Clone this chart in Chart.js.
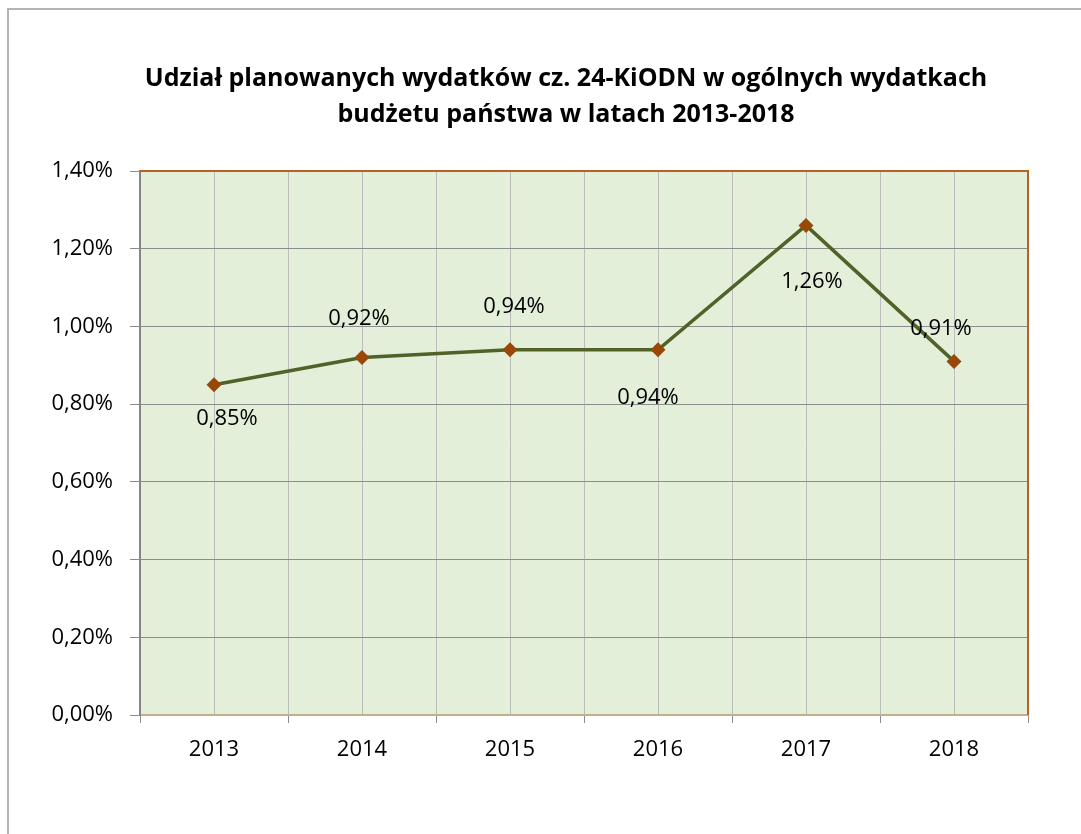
<!DOCTYPE html>
<html>
<head>
<meta charset="utf-8">
<script src="https://cdn.jsdelivr.net/npm/chart.js@4/dist/chart.umd.min.js"></script>
<style>
    html, body { margin: 0; padding: 0; background: #fff; overflow: hidden; }
    #frame { position: absolute; left: 7px; top: 8px; width: 1200px; height: 1000px; border: 2px solid #b4b4b4; }
    #wrap { position: absolute; left: 0; top: 0; width: 1081px; height: 834px; }
</style>
</head>
<body>
<div id="frame"></div>
<div id="wrap"><canvas id="shareChart" width="1081" height="834"></canvas></div>
<script>
    // Data
    const years = [2013, 2014, 2015, 2016, 2017, 2018];
    const sharePct = [0.85, 0.92, 0.94, 0.94, 1.26, 0.91];
    const yTicks = [0, 0.2, 0.4, 0.6, 0.8, 1.0, 1.2, 1.4];
    const titleLines = ['Udział planowanych wydatków cz. 24-KiODN w ogólnych wydatkach', 'budżetu państwa w latach 2013-2018'];

    // label nudges in pixels (style only, as placed in the original)
    const labelDx = [13, -3, 4, -10, 6, -13];
    const labelDy = [34, -39, -43, 48, 56, -33];

    const fmt = v => v.toFixed(2).replace('.', ',') + '%';
    const FONT = "'Open Sans', 'Noto Sans', sans-serif";

    // plot area fill + orange top/right border
    const plotArea = {
        id: 'plotArea',
        beforeDraw(chart) {
            const { ctx, chartArea: a } = chart;
            ctx.save();
            ctx.fillStyle = '#e3efd9';
            ctx.fillRect(a.left, a.top, a.right - a.left, a.bottom - a.top);
            ctx.restore();
        },
        afterDatasetsDraw(chart) {
            const { ctx, chartArea: a } = chart;
            ctx.save();
            ctx.strokeStyle = '#b8621f';
            ctx.lineWidth = 2;
            ctx.beginPath();
            ctx.moveTo(a.left, a.top);
            ctx.lineTo(a.right, a.top);
            ctx.lineTo(a.right, a.bottom);
            ctx.stroke();
            ctx.restore();
        }
    };

    // value labels + title
    const valueLabels = {
        id: 'valueLabels',
        afterDatasetsDraw(chart) {
            const { ctx } = chart;
            const meta = chart.getDatasetMeta(0);
            ctx.save();
            ctx.font = '22px ' + FONT;
            ctx.fillStyle = '#000';
            ctx.textAlign = 'center';
            ctx.textBaseline = 'middle';
            meta.data.forEach((pt, i) => {
                ctx.fillText(fmt(sharePct[i]), pt.x + labelDx[i], pt.y + labelDy[i]);
            });
            ctx.font = 'bold 25px ' + FONT;
            ctx.textBaseline = 'alphabetic';
            titleLines.forEach((t, i) => ctx.fillText(t, 566, 86 + i * 36));
            ctx.restore();
        }
    };

    const ctx = document.getElementById('shareChart').getContext('2d');
    new Chart(ctx, {
        type: 'line',
        data: {
            datasets: [{
                data: years.map((y, i) => ({ x: y, y: sharePct[i] })),
                borderColor: '#4f6228',
                borderWidth: 3.5,
                tension: 0,
                pointStyle: 'rectRot',
                pointRadius: 7.5,
                pointBackgroundColor: '#984807',
                pointBorderColor: '#984807',
                pointBorderWidth: 0
            }]
        },
        options: {
            responsive: false,
            animation: false,
            layout: {
                padding: { left: 0, right: 53, top: 171, bottom: 0 }
            },
            scales: {
                x: {
                    type: 'linear',
                    min: 2012.5,
                    max: 2018.5,
                    afterBuildTicks: scale => {
                        const t = [];
                        for (let v = 2012.5; v <= 2018.5; v += 0.5) t.push({ value: v });
                        scale.ticks = t;
                    },
                    afterFit: scale => { scale.height = 119; },
                    ticks: {
                        autoSkip: false,
                        maxRotation: 0,
                        padding: 14,
                        color: '#000',
                        font: { family: FONT, size: 22 },
                        callback: v => Number.isInteger(v) ? String(v) : ''
                    },
                    grid: {
                        color: '#bdbdbd',
                        lineWidth: 1,
                        tickLength: 8,
                        tickColor: c => (c.tick && Number.isInteger(c.tick.value)) ? 'rgba(0,0,0,0)' : '#8c8c8c'
                    },
                    border: { color: '#c2b08c', width: 2 }
                },
                y: {
                    min: 0,
                    max: 1.4,
                    afterBuildTicks: scale => { scale.ticks = yTicks.map(v => ({ value: v })); },
                    afterFit: scale => { scale.width = 140; },
                    ticks: {
                        padding: 17,
                        color: '#000',
                        font: { family: FONT, size: 22 },
                        callback: v => fmt(v)
                    },
                    grid: {
                        color: '#8c8c8c',
                        lineWidth: 1,
                        tickLength: 10
                    },
                    border: { color: '#868686', width: 2 }
                }
            },
            plugins: {
                legend: { display: false },
                tooltip: { enabled: false },
                title: { display: false }
            }
        },
        plugins: [plotArea, valueLabels]
    });
</script>
</body>
</html>
